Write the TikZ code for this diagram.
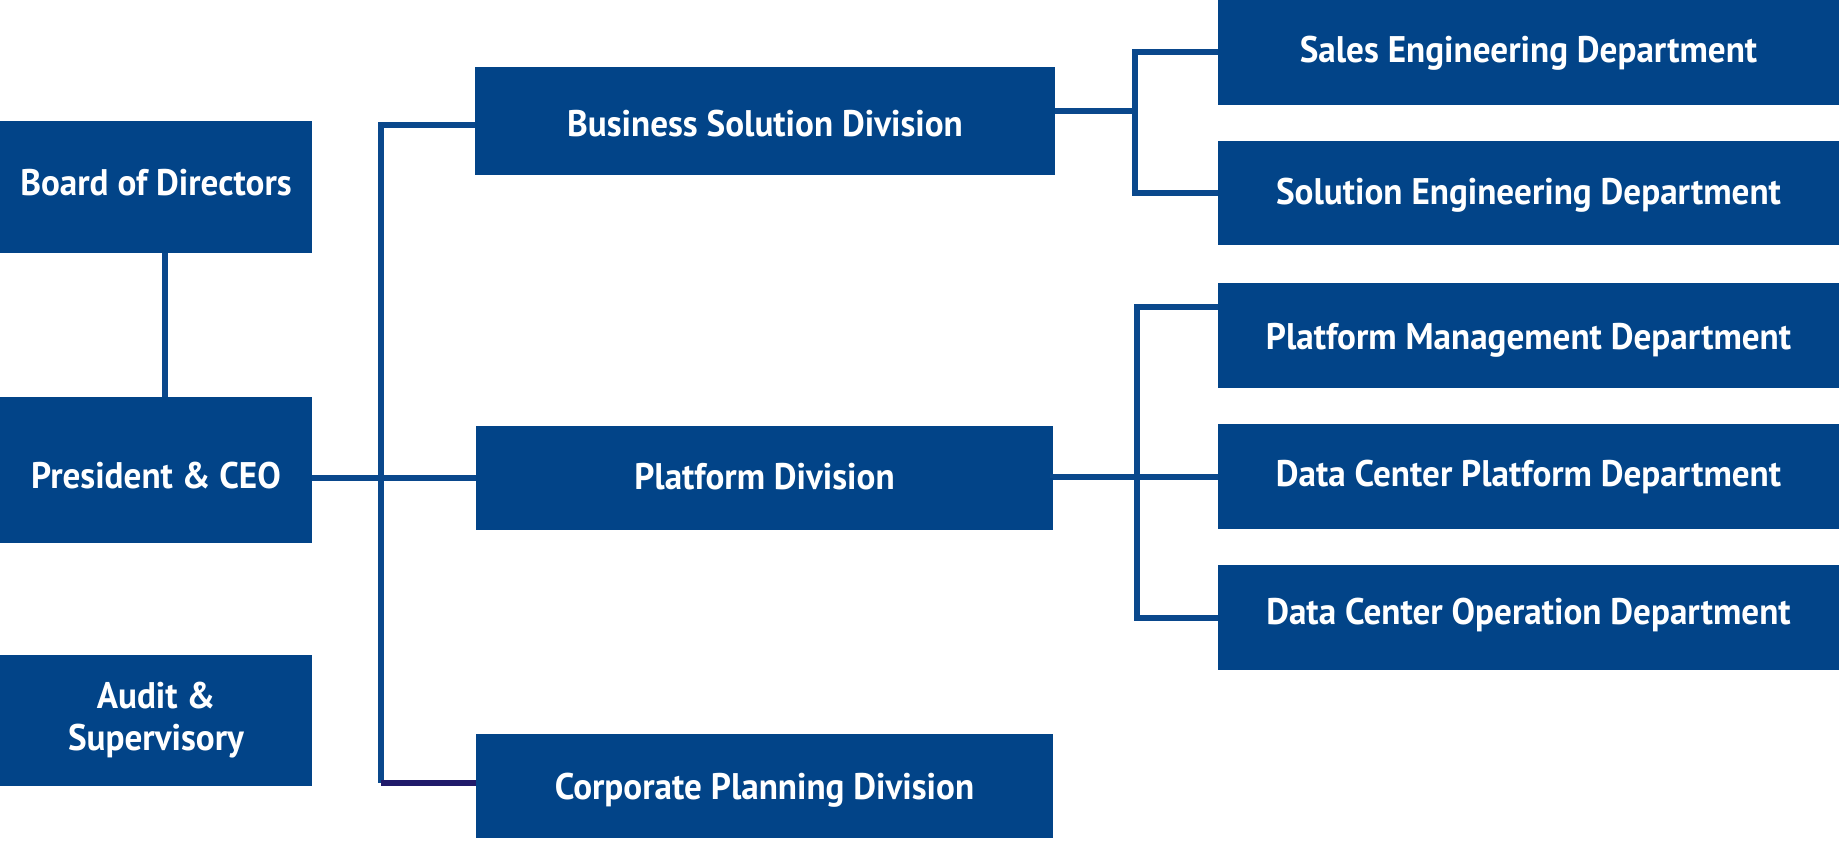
\documentclass[tikz,border=0pt]{standalone}
\usepackage{fontspec}
\setmainfont{PT Sans}[FakeStretch=0.95]
\definecolor{boxblue}{RGB}{2,68,136}
\definecolor{lineblue}{RGB}{10,72,140}
\definecolor{navy}{RGB}{32,26,106}
\newcommand{\rb}[2]{\raisebox{#1}[\height][\depth]{#2}}
\begin{document}
\begin{tikzpicture}[x=0.5pt,y=-0.5pt,
  box/.style={fill=boxblue, draw=none, inner sep=0pt, outer sep=0pt, text=white,
    font=\fontsize{18.5}{21}\selectfont\bfseries, align=center},
  conn/.style={draw=lineblue, line width=3pt}]
\useasboundingbox (0,0) rectangle (1839,840);
% left column
\node[box, minimum width=156pt, minimum height=66pt] (board) at (156,187) {\rb{2.4pt}{Board of Directors}};
\node[box, minimum width=156pt, minimum height=73pt] (ceo) at (156,470) {\rb{-2.9pt}{President \& CEO}};
\node[box, minimum width=156pt, minimum height=65.5pt] (audit) at (156,720.5) {Audit \&\\Supervisory};
% divisions
\node[box, minimum width=290pt, minimum height=54pt] (bsd) at (765,121) {\rb{-1.2pt}{Business Solution Division}};
\node[box, minimum width=288.5pt, minimum height=52pt] (pd) at (764.5,478) {\rb{0.6pt}{Platform Division}};
\node[box, minimum width=288.5pt, minimum height=52pt] (cpd) at (764.5,786) {\rb{-2.3pt}{Corporate Planning Division}};
% departments
\node[box, minimum width=310.5pt, minimum height=52.5pt] (sales) at (1528.5,52.5) {\rb{-0.6pt}{Sales Engineering Department}};
\node[box, minimum width=310.5pt, minimum height=52pt] (sol) at (1528.5,193) {\rb{-1.2pt}{Solution Engineering Department}};
\node[box, minimum width=310.5pt, minimum height=52.5pt] (pm) at (1528.5,335.5) {\rb{-2.3pt}{Platform Management Department}};
\node[box, minimum width=310.5pt, minimum height=52.5pt] (dcp) at (1528.5,476.5) {Data Center Platform Department};
\node[box, minimum width=310.5pt, minimum height=52.5pt] (dco) at (1528.5,617.5) {\rb{1.2pt}{Data Center Operation Department}};
% coordinates
\coordinate (bc) at (165,0);
\coordinate (t1) at (381,125);
\coordinate (t2) at (381,783);
\coordinate (b1) at (1135,111);
\coordinate (p1) at (1137,307);
% connectors
\draw[conn] (bc |- board.south) -- (bc |- ceo.north);
\draw[conn] (pd.west -| ceo.east) -- (pd.west);
\draw[conn] (t1 -| bsd.west) -- (t1) -- (t2);
\draw[conn, draw=navy] (t2) -- (t2 -| cpd.west);
\draw[conn] (bsd.east |- b1) -- (b1);
\draw[conn] (sales.west) -| (b1) |- (sol.west);
\draw[conn] (pm.west |- p1) -- (p1) |- (dco.west);
\draw[conn] (pd.east) -- (dcp.west -| pd.east) -- (dcp.west);
\end{tikzpicture}
\end{document}
